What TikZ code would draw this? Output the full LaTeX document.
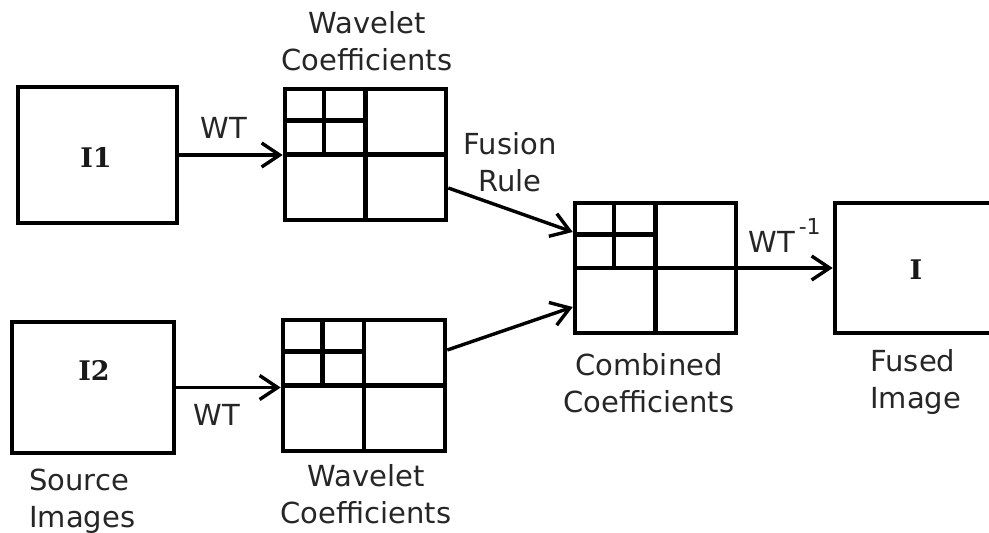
\documentclass[tikz,border=0pt]{standalone}
\usepackage{fontspec}
\setmainfont{DejaVu Sans}
\newfontfamily\imgfont{DejaVu Serif}
\usetikzlibrary{arrows.meta,calc}

\tikzset{
  box/.style={draw, line width=2.3pt, inner sep=0pt, minimum width=80.5pt, minimum height=65.5pt},
  gridline/.style={line width=2.3pt},
  link/.style={line width=1.7pt, -{Straight Barb[length=9pt,width=12pt]}},
  lbl/.style={inner sep=0pt, text=black!85, align=center, font=\fontsize{14.5}{18.5}\selectfont},
  imglbl/.style={inner sep=0pt, text=black!90, font=\imgfont\bfseries\fontsize{13.5}{15}\selectfont},
}

\begin{document}
\begin{tikzpicture}[x=0.5pt, y=-0.5pt]
  \clip (0,0) rectangle (989,533);

  % Source images
  \node[box, minimum width=79.5pt, minimum height=68pt] (i1) at (97.5,155) {};
  \node[box, minimum width=81pt] (i2) at (93,387.5) {};
  \node[imglbl] (i1lab) at (96,157) {I1};
  \node[imglbl] (i2lab) at (94,370) {I2};

  % Coefficients
  \node[box] (wt1) at (365.5,154.5) {};
  \node[box, minimum width=81pt] (wt2) at (364,385.5) {};
  \node[box, minimum height=65pt] (comb) at (655.5,268) {};
  \foreach \g in {wt1,wt2,comb}
    \draw[gridline] (\g.north) -- (\g.south) (\g.west) -- (\g.east)
      ($(\g.north west)!.5!(\g.north)$) -- ($(\g.west)!.5!(\g.center)$)
      ($(\g.north west)!.5!(\g.west)$) -- ($(\g.north)!.5!(\g.center)$);

  % Fused image
  \node[box, minimum width=82.5pt, minimum height=65pt] (fused) at (917.5,268) {};
  \node[imglbl] (flab) at (916,270) {I};

  % Arrows
  \draw[link] (i1.east) -- (i1.east -| wt1.west);
  \draw[link] (i2.east) -- (i2.east -| wt2.west);
  \draw[link] ([yshift=-16.75pt]wt1.east) -- ([yshift=18pt]comb.west);
  \draw[link] ([yshift=17.75pt]wt2.east) -- ([yshift=-19.5pt]comb.west);
  \draw[link] (comb.east) -- (comb.east -| fused.west);

  % Labels
  \node[lbl] (wtlab1) at (224,128) {WT};
  \node[lbl] (wtlab2) at (217,415) {WT};
  \node[lbl, anchor=base west] (wtinv) at (748,253)
    {WT\kern2pt\raisebox{9pt}{\fontsize{11}{12}\selectfont -1}};
  \node[lbl] (coef1) at (367,41) {Wavelet\\Coefficients};
  \node[lbl] (coef2) at (366,494.5) {Wavelet\\Coefficients};
  \node[lbl] (rule) at (510,162.5) {Fusion\\Rule};
  \node[lbl] (combcap) at (649,383) {Combined\\Coefficients};
  \node[lbl, align=left, anchor=west] (fusedcap) at (870,382) {Fused\\Image};
  \node[lbl, align=left, anchor=west] (srccap) at (29,501.5) {Source\\Images};
\end{tikzpicture}
\end{document}
